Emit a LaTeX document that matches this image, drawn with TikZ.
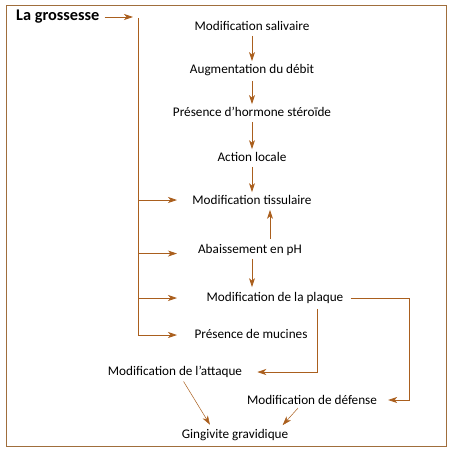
\documentclass[tikz,border=0pt]{standalone}
\usepackage{fontspec}
\setmainfont{Carlito}
\usetikzlibrary{arrows.meta, positioning}
\definecolor{brun}{RGB}{170,95,30}
\definecolor{cadre}{RGB}{160,110,60}

\begin{document}
\begin{tikzpicture}[x=1pt, y=-1pt,
    txt/.style={inner sep=1pt, font=\fontsize{13.2}{15}\selectfont},
    arr/.style={draw=brun, line width=0.8pt, -{Stealth[length=9pt, width=6pt, inset=2.5pt]}},
    fin/.style={draw=brun, line width=0.5pt, -{Stealth[length=9pt, width=6pt, inset=2.5pt]}}]

    \useasboundingbox (0,0) rectangle (454,452);
    \draw[cadre, line width=1pt] (6,6) rectangle (446,446);

    \node[txt, anchor=west, font=\fontsize{16.3}{18}\selectfont\bfseries] (gro) at (15,17) {La grossesse};

    \node[txt] (sal) at (252,26) {Modification salivaire};
    \node[txt] (deb) at (252,70) {Augmentation du débit};
    \node[txt] (hor) at (252,112) {Présence d\symbol{39}hormone stéroïde};
    \node[txt] (loc) at (252,157) {Action locale};
    \node[txt] (tis) at (252,200) {Modification tissulaire};
    \node[txt] (abs) at (250,250) {Abaissement en pH};
    \node[txt] (pla) at (275,298) {Modification de la plaque};
    \node[txt] (muc) at (251,334) {Présence de mucines};
    \node[txt] (att) at (175,372) {Modification de l\symbol{39}attaque};
    \node[txt] (def) at (312,400) {Modification de défense};
    \node[txt] (gin) at (235,435) {Gingivite gravidique};

    \coordinate (spine) at (138,18);
    \coordinate (spinebot) at (138,335);
    \coordinate (tips) at (177,0);
    \coordinate (rx) at (409,0);
    \coordinate (dx) at (317,0);

    \draw[arr, shorten <=4pt, shorten >=5pt] (gro.east) -- (gro.east -| spine);
    \draw[brun, line width=0.8pt] (spine) -- (spinebot);
    \draw[arr] (spine |- tis) -- (tips |- tis);
    \draw[arr] (spine |- abs.base) -- (tips |- abs.base);
    \draw[arr] (spine |- pla) -- (tips |- pla);
    \draw[arr] (spinebot) -- (tips |- spinebot);

    \draw[arr, shorten <=4pt, shorten >=2pt] (sal.south) -- (sal.south |- deb.north);
    \draw[arr, shorten <=4pt, shorten >=2pt] (deb.south) -- (deb.south |- hor.north);
    \draw[arr, shorten <=4pt, shorten >=2pt] (hor.south) -- (hor.south |- loc.north);
    \draw[arr, shorten <=4pt, shorten >=2pt] (loc.south) -- (loc.south |- tis.north);
    \draw[arr, shorten <=4pt, shorten >=4pt] ([xshift=20pt]abs.north) -- ([xshift=18pt]tis.south);
    \draw[arr, shorten <=2pt, shorten >=4pt] ([xshift=2pt]abs.south) -- ([xshift=2pt]abs.south |- pla.north);

    \draw[arr, shorten <=6pt, shorten >=10pt] (pla.east) -- (pla.east -| rx) |- (def.east);
    \draw[arr, shorten <=4pt, shorten >=14pt] (pla.south -| dx) |- (att.east);

    \draw[fin, shorten <=3pt, shorten >=4pt] ([xshift=7pt]att.south) -- ([xshift=-23pt]gin.north);
    \draw[fin, shorten <=3pt, shorten >=4pt] ([xshift=-12pt]def.south) -- ([xshift=45pt]gin.north);

\end{tikzpicture}
\end{document}
